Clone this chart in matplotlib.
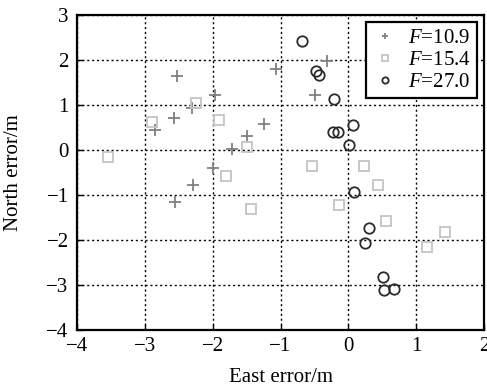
import numpy as np
import matplotlib
matplotlib.use("Agg")
import matplotlib.pyplot as plt

plt.rcParams['font.family'] = ['Liberation Serif', 'DejaVu Serif']
plt.rcParams['mathtext.fontset'] = 'custom'
plt.rcParams['mathtext.it'] = 'Liberation Serif:italic'
plt.rcParams['mathtext.rm'] = 'Liberation Serif'

# east / north position errors for three F values
east_109 = [-2.53, -1.97, -2.57, -2.85, -2.31, -1.72, -1.49, -1.24, -2.00, -2.29, -2.56, -1.06, -0.31, -0.49]
north_109 = [1.64, 1.22, 0.70, 0.44, 0.93, 0.02, 0.30, 0.58, -0.41, -0.79, -1.17, 1.80, 1.98, 1.22]

east_154 = [-3.54, -2.89, -2.25, -1.91, -1.50, -1.80, -1.44, -0.53, 0.23, -0.14, 0.44, 0.55, 1.43, 1.16]
north_154 = [-0.15, 0.62, 1.04, 0.67, 0.07, -0.58, -1.32, -0.35, -0.37, -1.22, -0.79, -1.58, -1.83, -2.16]

east_270 = [-0.68, -0.48, -0.44, -0.21, 0.07, -0.23, -0.15, 0.01, 0.09, 0.30, 0.24, 0.51, 0.52, 0.67]
north_270 = [2.42, 1.76, 1.67, 1.13, 0.56, 0.39, 0.39, 0.11, -0.94, -1.73, -2.06, -2.83, -3.11, -3.09]

labels = ['$F$=10.9', '$F$=15.4', '$F$=27.0']
xticks = [-4, -3, -2, -1, 0, 1, 2]
yticks = [-4, -3, -2, -1, 0, 1, 2, 3]

fig = plt.figure(figsize=(4.87, 3.89), dpi=100)
ax = fig.add_axes([0.158, 0.152, 0.836, 0.810])

ax.plot(east_109, north_109, '+', color='#808080', ms=8, mew=1.3, label=labels[0])
ax.plot(east_154, north_154, 's', mfc='none', mec='#c4c4c4', ms=6.5, mew=1.3, label=labels[1])
ax.plot(east_270, north_270, 'o', mfc='none', mec='#2a2a2a', ms=7.5, mew=1.3, label=labels[2])

ax.set_xlim(-4, 2)
ax.set_ylim(-4, 3)
ax.set_xticks(xticks)
ax.set_yticks(yticks)
ax.set_xticklabels(['\u2212%d' % -t if t < 0 else str(t) for t in xticks])
ax.set_yticklabels(['\u2212%d' % -t if t < 0 else str(t) for t in yticks])
ax.tick_params(direction='in', labelsize=15, length=4, width=1)
ax.tick_params(axis='x', pad=5)
ax.tick_params(axis='y', pad=6)
ax.grid(True, linestyle=(0, (1.5, 2)), color='black', linewidth=1)
for s in ax.spines.values():
    s.set_linewidth(1.6)

ax.set_xlabel('East error/m', fontsize=15)
ax.set_ylabel('North error/m', fontsize=15)
ax.xaxis.set_label_coords(0.5, -0.122)
ax.yaxis.set_label_coords(-0.132, 0.5)

leg = ax.legend(loc='upper right', fontsize=15, handlelength=1.2, handletextpad=0.5,
                borderpad=0.3, labelspacing=0.12, fancybox=False, framealpha=1,
                borderaxespad=0.35, markerscale=0.6)
leg.get_frame().set_edgecolor('black')
leg.get_frame().set_linewidth(1.6)

fig.savefig('out.png', dpi=100)
